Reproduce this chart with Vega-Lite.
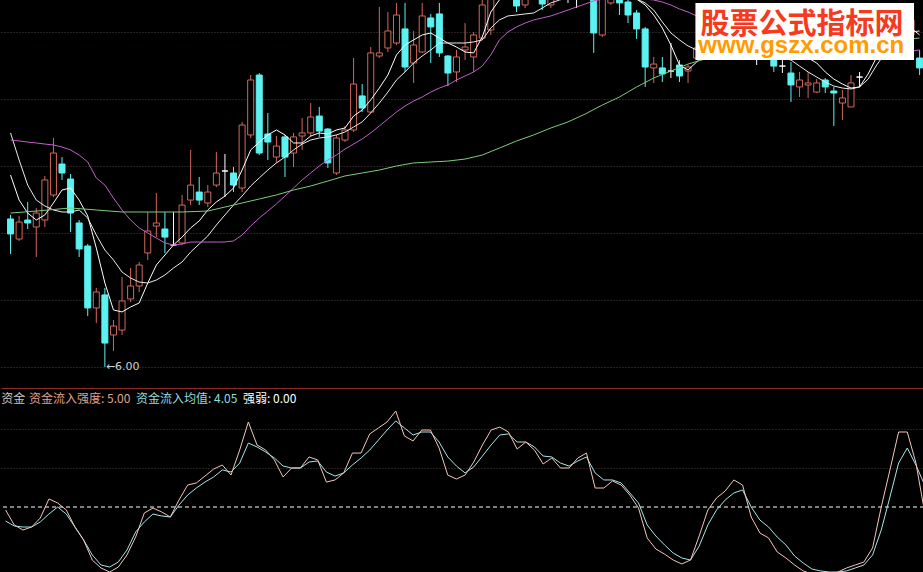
{
  "$schema": "https://vega.github.io/schema/vega-lite/v6.json",
  "background": "#000000",
  "padding": 0,
  "spacing": 0,
  "bounds": "flush",
  "config": {"view": {"stroke": null}, "concat": {"spacing": 0}},
  "resolve": {"scale": {"x": "independent", "y": "independent", "color": "independent", "fill": "independent", "stroke": "independent"}},
  "datasets": {
    "candles": [
      {"i":0,"o":7.105,"h":7.135,"l":6.844,"c":6.993,"t":"down","m5":7.433,"m10":7.747,"m20":7.694},
      {"i":1,"o":6.955,"h":7.127,"l":6.941,"c":7.082,"t":"up","m5":7.246,"m10":7.545,"m20":7.687},
      {"i":2,"o":7.097,"h":7.232,"l":7.030,"c":7.075,"t":"down","m5":7.149,"m10":7.358,"m20":7.679},
      {"i":3,"o":7.045,"h":7.187,"l":6.821,"c":7.149,"t":"up","m5":7.097,"m10":7.246,"m20":7.672},
      {"i":4,"o":7.097,"h":7.426,"l":7.045,"c":7.396,"t":"up","m5":7.135,"m10":7.202,"m20":7.664},
      {"i":5,"o":7.284,"h":7.709,"l":7.269,"c":7.597,"t":"up","m5":7.224,"m10":7.172,"m20":7.657},
      {"i":6,"o":7.515,"h":7.567,"l":7.396,"c":7.448,"t":"down","m5":7.321,"m10":7.157,"m20":7.642},
      {"i":7,"o":7.403,"h":7.441,"l":7.008,"c":7.149,"t":"down","m5":7.336,"m10":7.157,"m20":7.620},
      {"i":8,"o":7.075,"h":7.097,"l":6.821,"c":6.881,"t":"down","m5":7.246,"m10":7.172,"m20":7.582},
      {"i":9,"o":6.903,"h":6.918,"l":6.381,"c":6.441,"t":"down","m5":7.127,"m10":7.112,"m20":7.530},
      {"i":10,"o":6.441,"h":6.590,"l":6.329,"c":6.560,"t":"up","m5":6.888,"m10":6.985,"m20":7.411},
      {"i":11,"o":6.538,"h":6.590,"l":6.000,"c":6.179,"t":"down","m5":6.627,"m10":6.873,"m20":7.358},
      {"i":12,"o":6.239,"h":6.351,"l":6.120,"c":6.306,"t":"up","m5":6.426,"m10":6.799,"m20":7.261},
      {"i":13,"o":6.276,"h":6.672,"l":6.239,"c":6.493,"t":"up","m5":6.411,"m10":6.709,"m20":7.172},
      {"i":14,"o":6.508,"h":6.739,"l":6.485,"c":6.605,"t":"up","m5":6.448,"m10":6.664,"m20":7.097},
      {"i":15,"o":6.605,"h":6.784,"l":6.560,"c":6.761,"t":"up","m5":6.478,"m10":6.634,"m20":7.038},
      {"i":16,"o":6.851,"h":7.157,"l":6.799,"c":7.015,"t":"up","m5":6.627,"m10":6.627,"m20":7.000},
      {"i":17,"o":7.052,"h":7.299,"l":6.970,"c":7.075,"t":"up","m5":6.761,"m10":6.649,"m20":6.963},
      {"i":18,"o":7.030,"h":7.157,"l":6.851,"c":6.970,"t":"down","m5":6.836,"m10":6.687,"m20":6.926},
      {"i":19,"o":6.911,"h":7.157,"l":6.903,"c":6.911,"t":"doji","m5":6.911,"m10":6.739,"m20":6.911},
      {"i":20,"o":6.926,"h":7.284,"l":6.911,"c":7.209,"t":"up","m5":6.970,"m10":6.784,"m20":6.918},
      {"i":21,"o":7.246,"h":7.620,"l":7.209,"c":7.358,"t":"up","m5":7.038,"m10":6.858,"m20":6.933},
      {"i":22,"o":7.306,"h":7.418,"l":7.209,"c":7.246,"t":"down","m5":7.090,"m10":6.918,"m20":6.933},
      {"i":23,"o":7.224,"h":7.358,"l":7.194,"c":7.306,"t":"up","m5":7.172,"m10":6.978,"m20":6.933},
      {"i":24,"o":7.358,"h":7.605,"l":7.343,"c":7.448,"t":"up","m5":7.232,"m10":7.060,"m20":6.933},
      {"i":25,"o":7.463,"h":7.590,"l":7.269,"c":7.463,"t":"doji","m5":7.276,"m10":7.135,"m20":6.933},
      {"i":26,"o":7.448,"h":7.493,"l":7.306,"c":7.358,"t":"down","m5":7.336,"m10":7.209,"m20":6.941},
      {"i":27,"o":7.336,"h":7.829,"l":7.306,"c":7.806,"t":"up","m5":7.470,"m10":7.276,"m20":6.985},
      {"i":28,"o":7.732,"h":8.179,"l":7.709,"c":8.142,"t":"up","m5":7.620,"m10":7.351,"m20":7.052},
      {"i":29,"o":8.179,"h":8.194,"l":7.582,"c":7.597,"t":"down","m5":7.679,"m10":7.411,"m20":7.112},
      {"i":30,"o":7.739,"h":7.896,"l":7.545,"c":7.679,"t":"down","m5":7.732,"m10":7.470,"m20":7.164},
      {"i":31,"o":7.567,"h":7.724,"l":7.523,"c":7.649,"t":"up","m5":7.769,"m10":7.523,"m20":7.217},
      {"i":32,"o":7.717,"h":7.732,"l":7.418,"c":7.567,"t":"down","m5":7.732,"m10":7.567,"m20":7.276},
      {"i":33,"o":7.597,"h":7.747,"l":7.493,"c":7.717,"t":"up","m5":7.672,"m10":7.620,"m20":7.336},
      {"i":34,"o":7.724,"h":7.858,"l":7.620,"c":7.747,"t":"up","m5":7.672,"m10":7.664,"m20":7.396},
      {"i":35,"o":7.747,"h":7.970,"l":7.717,"c":7.866,"t":"up","m5":7.724,"m10":7.694,"m20":7.448},
      {"i":36,"o":7.873,"h":7.941,"l":7.717,"c":7.761,"t":"down","m5":7.747,"m10":7.709,"m20":7.500},
      {"i":37,"o":7.776,"h":7.784,"l":7.485,"c":7.523,"t":"down","m5":7.739,"m10":7.717,"m20":7.545},
      {"i":38,"o":7.448,"h":7.732,"l":7.433,"c":7.709,"t":"up","m5":7.769,"m10":7.732,"m20":7.582},
      {"i":39,"o":7.694,"h":7.799,"l":7.679,"c":7.769,"t":"up","m5":7.784,"m10":7.754,"m20":7.627},
      {"i":40,"o":7.769,"h":8.306,"l":7.754,"c":8.112,"t":"up","m5":7.873,"m10":7.791,"m20":7.664},
      {"i":41,"o":8.023,"h":8.112,"l":7.903,"c":7.933,"t":"down","m5":7.918,"m10":7.829,"m20":7.702},
      {"i":42,"o":7.903,"h":8.388,"l":7.896,"c":8.344,"t":"up","m5":7.993,"m10":7.896,"m20":7.747},
      {"i":43,"o":8.321,"h":8.687,"l":8.306,"c":8.344,"t":"up","m5":8.082,"m10":7.970,"m20":7.799},
      {"i":44,"o":8.381,"h":8.649,"l":8.351,"c":8.508,"t":"up","m5":8.179,"m10":8.052,"m20":7.851},
      {"i":45,"o":8.418,"h":8.717,"l":8.403,"c":8.627,"t":"up","m5":8.329,"m10":8.142,"m20":7.903},
      {"i":46,"o":8.523,"h":8.717,"l":8.202,"c":8.239,"t":"down","m5":8.403,"m10":8.202,"m20":7.948},
      {"i":47,"o":8.269,"h":8.508,"l":8.120,"c":8.403,"t":"up","m5":8.441,"m10":8.269,"m20":7.985},
      {"i":48,"o":8.351,"h":8.717,"l":8.344,"c":8.620,"t":"up","m5":8.478,"m10":8.321,"m20":8.015},
      {"i":49,"o":8.605,"h":8.635,"l":8.269,"c":8.538,"t":"down","m5":8.493,"m10":8.366,"m20":8.052},
      {"i":50,"o":8.635,"h":8.717,"l":8.314,"c":8.344,"t":"down","m5":8.455,"m10":8.418,"m20":8.082},
      {"i":51,"o":8.321,"h":8.329,"l":8.097,"c":8.194,"t":"down","m5":8.418,"m10":8.418,"m20":8.105},
      {"i":52,"o":8.202,"h":8.366,"l":8.127,"c":8.314,"t":"up","m5":8.388,"m10":8.418,"m20":8.142},
      {"i":53,"o":8.366,"h":8.567,"l":8.291,"c":8.388,"t":"up","m5":8.351,"m10":8.418,"m20":8.172},
      {"i":54,"o":8.314,"h":8.500,"l":8.202,"c":8.478,"t":"up","m5":8.344,"m10":8.426,"m20":8.202},
      {"i":55,"o":8.455,"h":8.776,"l":8.441,"c":8.702,"t":"up","m5":8.463,"m10":8.441,"m20":8.246},
      {"i":56,"o":8.515,"h":8.851,"l":8.478,"c":8.776,"t":"up","m5":8.649,"m10":8.530,"m20":8.329},
      {"i":57,"o":8.776,"h":9.000,"l":8.739,"c":8.926,"t":"up","m5":8.739,"m10":8.590,"m20":8.441},
      {"i":58,"o":8.888,"h":9.112,"l":8.814,"c":9.037,"t":"up","m5":8.814,"m10":8.620,"m20":8.500},
      {"i":59,"o":8.814,"h":8.888,"l":8.649,"c":8.694,"t":"down","m5":8.829,"m10":8.627,"m20":8.538},
      {"i":60,"o":8.702,"h":8.851,"l":8.679,"c":8.776,"t":"up","m5":8.829,"m10":8.635,"m20":8.567},
      {"i":61,"o":8.776,"h":8.963,"l":8.754,"c":8.888,"t":"up","m5":8.829,"m10":8.642,"m20":8.590},
      {"i":62,"o":8.799,"h":8.851,"l":8.664,"c":8.709,"t":"down","m5":8.829,"m10":8.679,"m20":8.605},
      {"i":63,"o":8.702,"h":8.829,"l":8.679,"c":8.776,"t":"up","m5":8.829,"m10":8.717,"m20":8.620},
      {"i":64,"o":8.776,"h":8.926,"l":8.754,"c":8.814,"t":"up","m5":8.814,"m10":8.739,"m20":8.642},
      {"i":65,"o":8.754,"h":8.851,"l":8.717,"c":8.754,"t":"doji","m5":8.814,"m10":8.754,"m20":8.664},
      {"i":66,"o":8.761,"h":8.814,"l":8.679,"c":8.761,"t":"doji","m5":8.814,"m10":8.761,"m20":8.687},
      {"i":67,"o":8.776,"h":8.926,"l":8.754,"c":8.851,"t":"up","m5":8.799,"m10":8.769,"m20":8.709},
      {"i":68,"o":8.814,"h":8.851,"l":8.344,"c":8.493,"t":"down","m5":8.784,"m10":8.776,"m20":8.732},
      {"i":69,"o":8.478,"h":8.814,"l":8.463,"c":8.754,"t":"up","m5":8.776,"m10":8.776,"m20":8.746},
      {"i":70,"o":8.717,"h":8.814,"l":8.702,"c":8.761,"t":"up","m5":8.776,"m10":8.769,"m20":8.754},
      {"i":71,"o":8.776,"h":8.814,"l":8.627,"c":8.717,"t":"down","m5":8.776,"m10":8.761,"m20":8.754},
      {"i":72,"o":8.724,"h":8.754,"l":8.567,"c":8.627,"t":"down","m5":8.761,"m10":8.754,"m20":8.746},
      {"i":73,"o":8.642,"h":8.664,"l":8.448,"c":8.523,"t":"down","m5":8.746,"m10":8.746,"m20":8.746},
      {"i":74,"o":8.523,"h":8.538,"l":8.090,"c":8.239,"t":"down","m5":8.702,"m10":8.717,"m20":8.746},
      {"i":75,"o":8.232,"h":8.314,"l":8.120,"c":8.261,"t":"up","m5":8.627,"m10":8.664,"m20":8.739},
      {"i":76,"o":8.232,"h":8.314,"l":8.127,"c":8.187,"t":"down","m5":8.530,"m10":8.575,"m20":8.724},
      {"i":77,"o":8.209,"h":8.418,"l":8.157,"c":8.209,"t":"doji","m5":8.403,"m10":8.493,"m20":8.702},
      {"i":78,"o":8.254,"h":8.291,"l":8.127,"c":8.172,"t":"down","m5":8.254,"m10":8.441,"m20":8.672},
      {"i":79,"o":8.209,"h":8.254,"l":8.120,"c":8.239,"t":"up","m5":8.217,"m10":8.396,"m20":8.649},
      {"i":80,"o":8.306,"h":8.426,"l":8.299,"c":8.381,"t":"up","m5":8.276,"m10":8.366,"m20":8.620},
      {"i":81,"o":8.381,"h":8.478,"l":8.329,"c":8.441,"t":"up","m5":8.336,"m10":8.351,"m20":8.597},
      {"i":82,"o":8.426,"h":8.478,"l":8.351,"c":8.403,"t":"down","m5":8.366,"m10":8.344,"m20":8.575},
      {"i":83,"o":8.403,"h":8.515,"l":8.366,"c":8.455,"t":"up","m5":8.403,"m10":8.351,"m20":8.552},
      {"i":84,"o":8.441,"h":8.493,"l":8.329,"c":8.411,"t":"down","m5":8.418,"m10":8.366,"m20":8.530},
      {"i":85,"o":8.411,"h":8.478,"l":8.351,"c":8.441,"t":"up","m5":8.411,"m10":8.366,"m20":8.515},
      {"i":86,"o":8.441,"h":8.470,"l":8.321,"c":8.381,"t":"down","m5":8.403,"m10":8.358,"m20":8.493},
      {"i":87,"o":8.366,"h":8.426,"l":8.254,"c":8.366,"t":"doji","m5":8.388,"m10":8.351,"m20":8.478},
      {"i":88,"o":8.351,"h":8.441,"l":8.306,"c":8.396,"t":"up","m5":8.366,"m10":8.336,"m20":8.463},
      {"i":89,"o":8.291,"h":8.329,"l":8.202,"c":8.246,"t":"down","m5":8.351,"m10":8.321,"m20":8.448},
      {"i":90,"o":8.246,"h":8.291,"l":8.194,"c":8.246,"t":"doji","m5":8.329,"m10":8.306,"m20":8.433},
      {"i":91,"o":8.194,"h":8.276,"l":7.978,"c":8.105,"t":"down","m5":8.314,"m10":8.291,"m20":8.418},
      {"i":92,"o":8.090,"h":8.202,"l":8.015,"c":8.142,"t":"up","m5":8.314,"m10":8.246,"m20":8.403},
      {"i":93,"o":8.105,"h":8.202,"l":8.008,"c":8.120,"t":"up","m5":8.306,"m10":8.202,"m20":8.388},
      {"i":94,"o":8.052,"h":8.149,"l":8.045,"c":8.120,"t":"up","m5":8.269,"m10":8.164,"m20":8.373},
      {"i":95,"o":8.142,"h":8.157,"l":8.045,"c":8.090,"t":"down","m5":8.202,"m10":8.127,"m20":8.366},
      {"i":96,"o":8.060,"h":8.090,"l":7.799,"c":8.045,"t":"down","m5":8.149,"m10":8.097,"m20":8.351},
      {"i":97,"o":7.970,"h":8.067,"l":7.843,"c":8.008,"t":"up","m5":8.112,"m10":8.082,"m20":8.344},
      {"i":98,"o":7.941,"h":8.179,"l":7.941,"c":8.120,"t":"up","m5":8.082,"m10":8.075,"m20":8.336},
      {"i":99,"o":8.164,"h":8.202,"l":8.090,"c":8.164,"t":"doji","m5":8.090,"m10":8.090,"m20":8.329},
      {"i":100,"o":8.306,"h":8.441,"l":8.291,"c":8.403,"t":"up","m5":8.187,"m10":8.149,"m20":8.329},
      {"i":101,"o":8.403,"h":8.515,"l":8.381,"c":8.478,"t":"up","m5":8.314,"m10":8.254,"m20":8.329},
      {"i":102,"o":8.478,"h":8.590,"l":8.441,"c":8.530,"t":"up","m5":8.403,"m10":8.344,"m20":8.336},
      {"i":103,"o":8.530,"h":8.605,"l":8.455,"c":8.515,"t":"down","m5":8.478,"m10":8.411,"m20":8.344},
      {"i":104,"o":8.515,"h":8.627,"l":8.478,"c":8.575,"t":"up","m5":8.515,"m10":8.463,"m20":8.351},
      {"i":105,"o":8.478,"h":8.649,"l":8.455,"c":8.590,"t":"up","m5":8.530,"m10":8.500,"m20":8.358},
      {"i":106,"o":8.306,"h":8.366,"l":8.179,"c":8.232,"t":"down","m5":8.478,"m10":8.508,"m20":8.366}
    ],
    "ma60": [
      {"i":0,"p":7.149},{"i":3,"p":7.164},{"i":7,"p":7.187},{"i":10,"p":7.172},{"i":13,"p":7.157},{"i":17,"p":7.157},{"i":20,"p":7.157},{"i":23,"p":7.164},{"i":25,"p":7.194},{"i":27,"p":7.224},{"i":29,"p":7.254},{"i":31,"p":7.284},{"i":33,"p":7.321},{"i":35,"p":7.351},{"i":37,"p":7.388},{"i":39,"p":7.426},{"i":41,"p":7.448},{"i":43,"p":7.470},{"i":45,"p":7.500},{"i":47,"p":7.523},{"i":49,"p":7.530},{"i":51,"p":7.537},{"i":53,"p":7.552},{"i":55,"p":7.582},{"i":57,"p":7.634},{"i":59,"p":7.687},{"i":61,"p":7.732},{"i":63,"p":7.784},{"i":65,"p":7.829},{"i":67,"p":7.888},{"i":69,"p":7.955},{"i":71,"p":8.015},{"i":73,"p":8.090},{"i":75,"p":8.157},{"i":77,"p":8.209},{"i":79,"p":8.261},{"i":81,"p":8.299},{"i":83,"p":8.314},{"i":85,"p":8.329},{"i":90,"p":8.366},{"i":95,"p":8.396},{"i":100,"p":8.426},{"i":106,"p":8.455}
    ],
    "flow": [
      {"i":0,"q":47.7,"a":39.2},{"i":1,"q":36.2,"a":35.4},{"i":2,"q":32.3,"a":34.6},{"i":3,"q":34.6,"a":34.6},{"i":4,"q":41.5,"a":38.5},
      {"i":5,"q":56.2,"a":44.6},{"i":6,"q":53.1,"a":50},{"i":7,"q":47.7,"a":44.6},{"i":8,"q":34.6,"a":34.6},{"i":9,"q":24.6,"a":24.6},
      {"i":10,"q":9.2,"a":13.1},{"i":11,"q":3.1,"a":5.4},{"i":12,"q":0,"a":3.8},{"i":13,"q":3.8,"a":7.7},{"i":14,"q":13.1,"a":16.9},
      {"i":15,"q":26.9,"a":30.8},{"i":16,"q":45.4,"a":38.5},{"i":17,"q":49.2,"a":44.6},{"i":18,"q":46.2,"a":43.1},{"i":19,"q":42.3,"a":42.3},
      {"i":20,"q":55.4,"a":51.5},{"i":21,"q":66.9,"a":59.2},{"i":22,"q":68.5,"a":64.6},{"i":23,"q":73.8,"a":69.2},{"i":24,"q":79.2,"a":73.1},
      {"i":25,"q":82.3,"a":78.5},{"i":26,"q":74.6,"a":76.9},{"i":27,"q":93.8,"a":83.8},{"i":28,"q":115.4,"a":99.2},{"i":29,"q":97.7,"a":96.2},
      {"i":30,"q":93.8,"a":92.3},{"i":31,"q":86.2,"a":87.7},{"i":32,"q":73.1,"a":81.5},{"i":33,"q":80,"a":80},{"i":34,"q":80,"a":80},
      {"i":35,"q":88.5,"a":84.6},{"i":36,"q":86.2,"a":85.4},{"i":37,"q":69.2,"a":76.9},{"i":38,"q":70.8,"a":73.8},{"i":39,"q":76.2,"a":76.2},
      {"i":40,"q":91.5,"a":82.3},{"i":41,"q":91.5,"a":87.7},{"i":42,"q":106.2,"a":93.8},{"i":43,"q":110.8,"a":101.5},{"i":44,"q":115.4,"a":109.2},
      {"i":45,"q":123.8,"a":116.2},{"i":46,"q":104.6,"a":110.8},{"i":47,"q":100.8,"a":105.4},{"i":48,"q":109.2,"a":107.7},{"i":49,"q":109.2,"a":107.7},
      {"i":50,"q":95.4,"a":100},{"i":51,"q":74.6,"a":88.5},{"i":52,"q":71.5,"a":81.5},{"i":53,"q":74.6,"a":76.2},{"i":54,"q":84.6,"a":80.8},
      {"i":55,"q":97.7,"a":89.2},{"i":56,"q":109.2,"a":97.7},{"i":57,"q":111.5,"a":105.4},{"i":58,"q":107.7,"a":106.2},{"i":59,"q":94.6,"a":100},
      {"i":60,"q":100,"a":100},{"i":61,"q":93.8,"a":96.2},{"i":62,"q":83.1,"a":89.2},{"i":63,"q":87.7,"a":88.5},{"i":64,"q":80,"a":83.8},
      {"i":65,"q":80,"a":81.5},{"i":66,"q":87.7,"a":85.4},{"i":67,"q":91.5,"a":88.5},{"i":68,"q":64.6,"a":76.2},{"i":69,"q":64.6,"a":70.8},
      {"i":70,"q":70,"a":70.8},{"i":71,"q":66.9,"a":68.5},{"i":72,"q":59.2,"a":60.8},{"i":73,"q":49.2,"a":53.1},{"i":74,"q":26.2,"a":36.2},
      {"i":75,"q":17.7,"a":27.7},{"i":76,"q":13.8,"a":20.8},{"i":77,"q":9.2,"a":14.6},{"i":78,"q":6.2,"a":10.8},{"i":79,"q":9.2,"a":9.2},
      {"i":80,"q":27.7,"a":20},{"i":81,"q":47.7,"a":36.2},{"i":82,"q":56.9,"a":47.7},{"i":83,"q":62.3,"a":55.4},{"i":84,"q":70.8,"a":60.8},
      {"i":85,"q":66.9,"a":63.1},{"i":86,"q":42.3,"a":50},{"i":87,"q":30,"a":40},{"i":88,"q":26.2,"a":34.6},{"i":89,"q":15.4,"a":26.9},
      {"i":90,"q":10.8,"a":20.8},{"i":91,"q":5.4,"a":12.3},{"i":92,"q":0.8,"a":6.9},{"i":93,"q":-1.5,"a":2.3},{"i":94,"q":-2.3,"a":0.8},
      {"i":95,"q":-2.3,"a":0},{"i":96,"q":0,"a":0},{"i":97,"q":3.1,"a":0.8},{"i":98,"q":5.4,"a":3.1},{"i":99,"q":7.7,"a":5.4},
      {"i":100,"q":18.5,"a":13.1},{"i":101,"q":50,"a":32.3},{"i":102,"q":78.5,"a":57.7},{"i":103,"q":107.7,"a":83.8},{"i":104,"q":107.7,"a":95.4},
      {"i":105,"q":83.8,"a":82.3},{"i":106,"q":46.2,"a":66.9}
    ]
  },
  "vconcat": [
    {
      "width": 923,
      "height": 388,
      "layer": [
        {
          "data": {"name": "candles"},
          "mark": {"type": "rule", "strokeWidth": 1, "clip": true},
          "encoding": {
            "x": {"field": "i", "type": "quantitative", "scale": {"domain": [-0.53, 105.93], "nice": false, "zero": false},
                  "axis": {"labels": false, "ticks": false, "grid": false, "domain": true, "domainColor": "#8c2c24", "domainWidth": 1, "title": null}},
            "y": {"field": "l", "type": "quantitative", "scale": {"domain": [5.8435, 8.739], "nice": false, "zero": false},
                  "axis": {"values": [6, 6.5, 7, 7.5, 8, 8.5], "labels": false, "ticks": false, "domain": false, "grid": true, "gridColor": "#4e3c3c", "gridDash": [1, 2], "gridWidth": 1, "title": null}},
            "y2": {"field": "h"},
            "stroke": {"field": "t", "type": "nominal", "scale": {"domain": ["up", "down", "doji"], "range": ["#d0685c", "#5cf2f2", "#ffffff"]}, "legend": null}
          }
        },
        {
          "data": {"name": "candles"},
          "mark": {"type": "bar", "size": 6, "strokeWidth": 1, "clip": true},
          "encoding": {
            "x": {"field": "i", "type": "quantitative"},
            "y": {"field": "o", "type": "quantitative"},
            "y2": {"field": "c"},
            "fill": {"field": "t", "type": "nominal", "scale": {"domain": ["up", "down", "doji"], "range": ["#000000", "#5cf2f2", "#ffffff"]}, "legend": null},
            "stroke": {"field": "t", "type": "nominal", "legend": null}
          }
        },
        {
          "data": {"name": "candles"},
          "transform": [{"fold": ["m5", "m10", "m20"], "as": ["s", "p"]}],
          "mark": {"type": "line", "strokeWidth": 1, "clip": true},
          "encoding": {
            "x": {"field": "i", "type": "quantitative"},
            "y": {"field": "p", "type": "quantitative"},
            "color": {"field": "s", "type": "nominal", "scale": {"domain": ["m5", "m10", "m20"], "range": ["#ffffff", "#ececec", "#c060c8"]}, "legend": null}
          }
        },
        {
          "data": {"name": "ma60"},
          "mark": {"type": "line", "strokeWidth": 1, "color": "#7ccc7c", "clip": true},
          "encoding": {
            "x": {"field": "i", "type": "quantitative"},
            "y": {"field": "p", "type": "quantitative"}
          }
        },
        {
          "data": {"values": [{}]},
          "mark": {"type": "text", "text": "←6.00", "align": "left", "baseline": "middle", "font": "DejaVu Sans", "fontSize": 11, "color": "#d0d0d0", "dx": 1},
          "encoding": {"x": {"datum": 11, "type": "quantitative"}, "y": {"datum": 6.0, "type": "quantitative"}}
        },
        {
          "data": {"values": [{}]},
          "mark": {"type": "rect", "color": "#ffffff"},
          "encoding": {
            "x": {"datum": 79.86, "type": "quantitative"}, "x2": {"datum": 105.35},
            "y": {"datum": 8.717, "type": "quantitative"}, "y2": {"datum": 8.291}
          }
        },
        {
          "data": {"values": [{}]},
          "mark": {"type": "text", "text": "股票公式指标网", "align": "center", "baseline": "middle", "font": "Noto Sans CJK SC", "fontWeight": "bold", "fontSize": 29, "color": "#f53a1e"},
          "encoding": {"x": {"datum": 92.3, "type": "quantitative"}, "y": {"datum": 8.552, "type": "quantitative"}}
        },
        {
          "data": {"values": [{}]},
          "mark": {"type": "text", "text": "www.gszx.com.cn", "align": "center", "baseline": "alphabetic", "font": "Liberation Sans", "fontWeight": "bold", "fontSize": 24, "color": "#ff9c00"},
          "encoding": {"x": {"datum": 92.2, "type": "quantitative"}, "y": {"datum": 8.340, "type": "quantitative"}}
        }
      ]
    },
    {
      "width": 923,
      "height": 184,
      "layer": [
        {
          "data": {"values": [{}]},
          "mark": {"type": "rule", "color": "#ffffff", "strokeDash": [4, 3], "strokeWidth": 1},
          "encoding": {"y": {"datum": 50, "type": "quantitative", "scale": {"domain": [0, 141.54], "nice": false, "zero": false},
                  "axis": {"values": [80, 110], "labels": false, "ticks": false, "domain": false, "grid": true, "gridColor": "#4e3c3c", "gridDash": [1, 2], "gridWidth": 1, "title": null}}}
        },
        {
          "data": {"name": "flow"},
          "transform": [{"fold": ["a", "q"], "as": ["s", "v"]}],
          "mark": {"type": "line", "strokeWidth": 1, "clip": true},
          "encoding": {
            "x": {"field": "i", "type": "quantitative", "scale": {"domain": [-0.53, 105.93], "nice": false, "zero": false}, "axis": null},
            "y": {"field": "v", "type": "quantitative"},
            "color": {"field": "s", "type": "nominal", "scale": {"domain": ["q", "a"], "range": ["#f2c6bc", "#a6e6e6"]}, "legend": null}
          }
        },
        {
          "data": {"values": [{}]},
          "mark": {"type": "text", "text": "资金", "align": "left", "baseline": "middle", "font": "Noto Sans CJK SC", "fontSize": 12, "color": "#c8c8c8"},
          "encoding": {"x": {"datum": -0.5, "type": "quantitative"}, "y": {"datum": 133.1, "type": "quantitative"}}
        },
        {
          "data": {"values": [{}]},
          "mark": {"type": "text", "text": "资金流入强度: 5.00", "align": "left", "baseline": "middle", "font": "Noto Sans CJK SC", "fontSize": 12, "color": "#e0a090"},
          "encoding": {"x": {"datum": 2.7, "type": "quantitative"}, "y": {"datum": 133.1, "type": "quantitative"}}
        },
        {
          "data": {"values": [{}]},
          "mark": {"type": "text", "text": "资金流入均值: 4.05", "align": "left", "baseline": "middle", "font": "Noto Sans CJK SC", "fontSize": 12, "color": "#90dcdc"},
          "encoding": {"x": {"datum": 15.04, "type": "quantitative"}, "y": {"datum": 133.1, "type": "quantitative"}}
        },
        {
          "data": {"values": [{}]},
          "mark": {"type": "text", "text": "强弱: 0.00", "align": "left", "baseline": "middle", "font": "Noto Sans CJK SC", "fontSize": 12, "color": "#ffffff"},
          "encoding": {"x": {"datum": 27.38, "type": "quantitative"}, "y": {"datum": 133.1, "type": "quantitative"}}
        }
      ]
    }
  ]
}
